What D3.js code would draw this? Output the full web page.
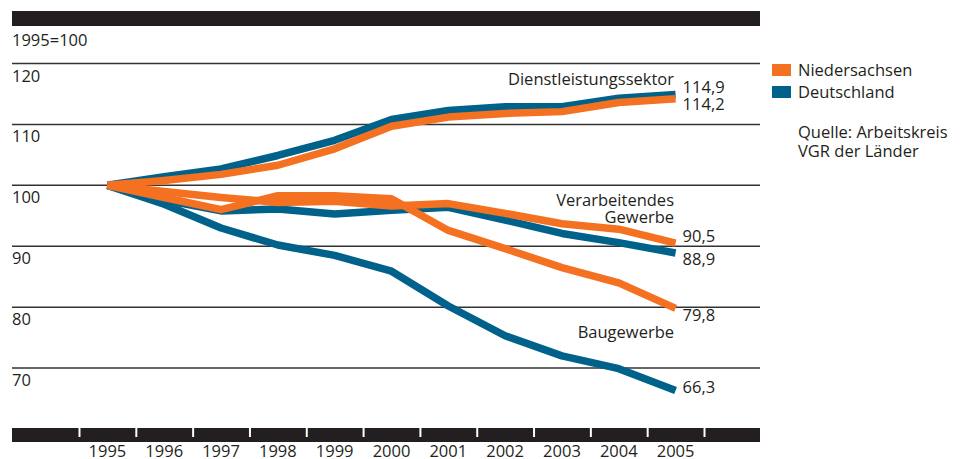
<!DOCTYPE html>
<html>
<head>
<meta charset="utf-8">
<script src="https://cdn.jsdelivr.net/npm/d3@7"></script>
<style>
  body { margin: 0; background: #fff; }
  svg { display: block; font-family: "Open Sans", "Noto Sans", sans-serif; }
  .lbl { font-size: 16.5px; fill: #231f20; }
</style>
</head>
<body>
<div id="chart"></div>
<script>
// years and index values (1995=100)
var years = [1995, 1996, 1997, 1998, 1999, 2000, 2001, 2002, 2003, 2004, 2005];
var dienstNds = [100, 100.8, 101.8, 103.3, 106.0, 109.7, 111.2, 111.8, 112.1, 113.6, 114.2];
var dienstDe  = [100, 101.4, 102.7, 104.9, 107.4, 110.8, 112.3, 112.9, 112.9, 114.3, 114.9];
var verarbNds = [100, 99.0, 98.0, 97.2, 97.4, 96.6, 97.0, 95.4, 93.7, 92.8, 90.5];
var verarbDe  = [100, 97.6, 95.8, 96.1, 95.3, 95.9, 96.4, 94.3, 92.1, 90.6, 88.9];
var bauNds    = [100, 98.0, 96.0, 98.3, 98.3, 97.8, 92.6, 89.6, 86.5, 84.0, 79.8];
var bauDe     = [100, 96.9, 93.0, 90.2, 88.5, 85.9, 80.2, 75.3, 72.0, 69.9, 66.3];
var yTicks = [70, 80, 90, 100, 110, 120];
var seriesNames = ["Niedersachsen", "Deutschland"];

var width = 960, height = 459;
var orange = "#f37121", blue = "#00628a";

var svg = d3.select("#chart").append("svg")
  .attr("width", width)
  .attr("height", height);

var x = d3.scaleLinear().domain([1994.5, 2005.5]).range([79, 704]);
var y = d3.scaleLinear().domain([60, 120]).range([429, 63.5]);

/* top bar */
svg.append("rect").attr("x", 12).attr("y", 11).attr("width", 748).attr("height", 15).attr("fill", "#231f20");

svg.append("text").attr("class", "lbl").attr("x", 12).attr("y", 46).text("1995=100");

/* grid lines */
var grid = svg.append("g");
grid.selectAll("line").data(yTicks).join("line")
  .attr("x1", 12).attr("x2", 760)
  .attr("y1", d => y(d)).attr("y2", d => y(d))
  .attr("stroke", "#333").attr("stroke-width", 1.5);
grid.selectAll("text").data(yTicks).join("text")
  .attr("class", "lbl")
  .attr("x", 12)
  .attr("y", d => y(d) + 18)
  .text(d => d);

/* bottom bar with ticks */
svg.append("rect").attr("x", 12).attr("y", y(60) - 1).attr("width", 748).attr("height", 14).attr("fill", "#231f20");
var xAxis = d3.axisBottom(x)
  .tickValues(d3.range(1994.5, 2006, 1))
  .tickSize(9)
  .tickFormat("");
svg.append("g")
  .attr("transform", `translate(0,${y(60) - 1})`)
  .call(xAxis)
  .call(g => g.select(".domain").remove())
  .call(g => g.selectAll(".tick line").attr("stroke", "#fff").attr("stroke-width", 2));
svg.append("g").selectAll("text").data(years).join("text")
  .attr("class", "lbl")
  .attr("x", d => x(d))
  .attr("y", 457)
  .attr("text-anchor", "middle")
  .text(d => d);

/* lines */
var series = [
  { values: dienstDe, color: blue },
  { values: dienstNds, color: orange },
  { values: verarbDe, color: blue },
  { values: bauDe, color: blue },
  { values: verarbNds, color: orange },
  { values: bauNds, color: orange }
];
var line = d3.line()
  .x((d, i) => x(years[i]))
  .y(d => y(d));
svg.append("g").selectAll("path").data(series).join("path")
  .attr("d", d => line(d.values))
  .attr("fill", "none")
  .attr("stroke", d => d.color)
  .attr("stroke-width", 7.5)
  .attr("stroke-linejoin", "round");

/* end value labels */
var ends = [
  { values: dienstDe, dy: -1.6 },
  { values: dienstNds, dy: 11 },
  { values: verarbNds, dy: -1.2 },
  { values: verarbDe, dy: 12 },
  { values: bauNds, dy: 12.6 },
  { values: bauDe, dy: 2.4 }
];
svg.append("g").selectAll("text").data(ends).join("text")
  .attr("class", "lbl")
  .attr("x", x(2005) + 7)
  .attr("y", d => y(d.values[d.values.length - 1]) + d.dy)
  .text(d => d3.format(".1f")(d.values[d.values.length - 1]).replace(".", ","));

/* sector labels */
var sectorLabels = [
  { text: "Dienstleistungssektor", y: 85 },
  { text: "Verarbeitendes", y: 206 },
  { text: "Gewerbe", y: 223 },
  { text: "Baugewerbe", y: 338 }
];
svg.append("g").selectAll("text").data(sectorLabels).join("text")
  .attr("class", "lbl")
  .attr("x", 674)
  .attr("y", d => d.y)
  .attr("text-anchor", "end")
  .text(d => d.text);

/* legend */
var legend = svg.append("g").attr("transform", "translate(772,64)");
legend.selectAll("rect").data(seriesNames).join("rect")
  .attr("x", 0).attr("y", (d, i) => i * 22)
  .attr("width", 19).attr("height", 12)
  .attr("fill", (d, i) => i === 0 ? orange : blue);
legend.selectAll("text").data(seriesNames).join("text")
  .attr("class", "lbl")
  .attr("x", 26).attr("y", (d, i) => i * 22 + 12)
  .text(d => d);

svg.append("text").attr("class", "lbl").attr("x", 798).attr("y", 138).text("Quelle: Arbeitskreis");
svg.append("text").attr("class", "lbl").attr("x", 798).attr("y", 157).text("VGR der Länder");
</script>
</body>
</html>
